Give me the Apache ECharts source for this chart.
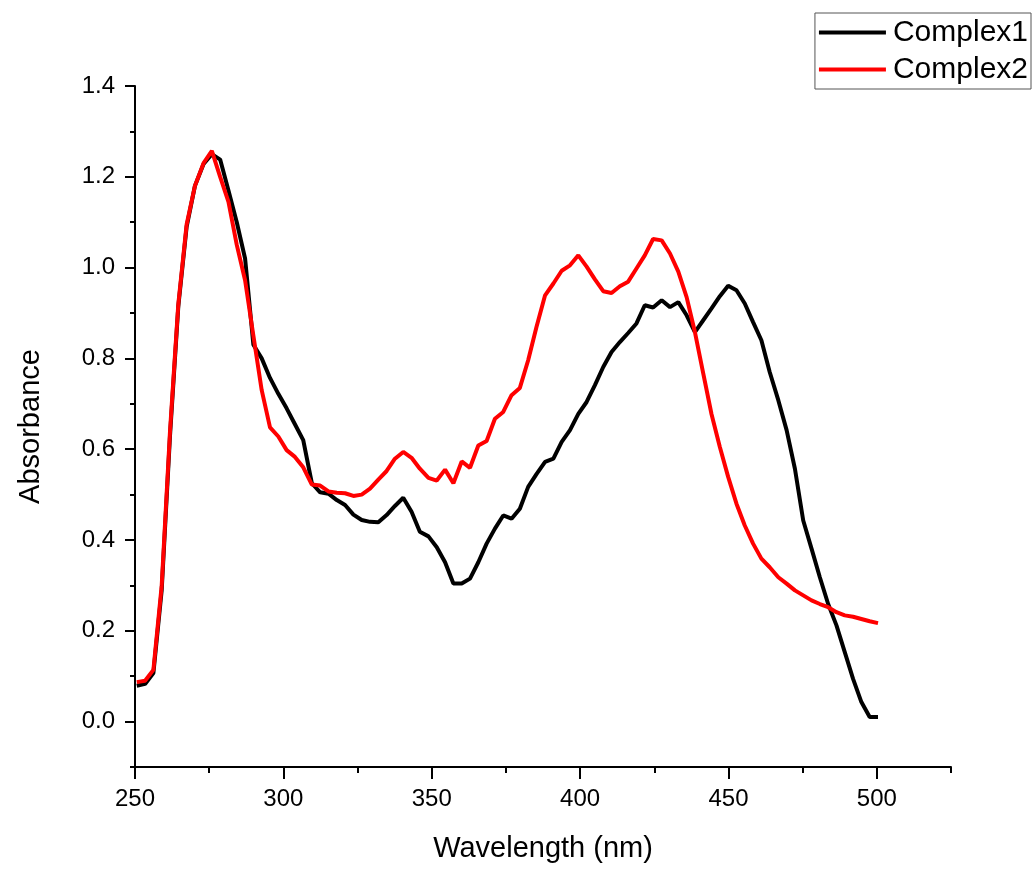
<!DOCTYPE html>
<html>
<head>
<meta charset="utf-8">
<title>UV-Vis absorbance</title>
<script src="https://cdn.jsdelivr.net/npm/echarts@6/dist/echarts.min.js"></script>
<style>
  html, body { margin: 0; padding: 0; background: #fff; }
  #chart { width: 1034px; height: 869px; }
</style>
</head>
<body>
<div id="chart"></div>
<script>
// Wavelength sampling points (nm), shared by both spectra
const wavelengths = [
  250.6, 253.4, 256.2, 259.0, 261.8, 264.6, 267.4, 270.2, 273.1, 275.9,
  278.7, 281.5, 284.3, 287.1, 289.9, 292.7, 295.5, 298.3, 301.1, 303.9,
  306.7, 309.6, 312.4, 315.2, 318.0, 320.8, 323.6, 326.4, 329.2, 332.0,
  334.8, 337.6, 340.4, 343.2, 346.0, 348.9, 351.7, 354.5, 357.3, 360.1,
  362.9, 365.7, 368.5, 371.3, 374.1, 376.9, 379.7, 382.5, 385.3, 388.2,
  391.0, 393.8, 396.6, 399.4, 402.2, 405.0, 407.8, 410.6, 413.4, 416.2,
  419.0, 421.8, 424.6, 427.5, 430.3, 433.1, 435.9, 438.7, 441.5, 444.3,
  447.1, 449.9, 452.7, 455.5, 458.3, 461.1, 463.9, 466.8, 469.6, 472.4,
  475.2, 478.0, 480.8, 483.6, 486.4, 489.2, 492.0, 494.8, 497.6, 500.4
];

// Absorbance of Complex1
const complex1 = [
  0.079, 0.083, 0.107, 0.290, 0.630, 0.915, 1.090, 1.180, 1.228, 1.250,
  1.238, 1.170, 1.100, 1.020, 0.830, 0.800, 0.757, 0.722, 0.690, 0.655,
  0.620, 0.525, 0.505, 0.502, 0.488, 0.477, 0.456, 0.444, 0.440, 0.439,
  0.455, 0.475, 0.493, 0.462, 0.418, 0.408, 0.384, 0.351, 0.304, 0.304,
  0.315, 0.351, 0.392, 0.425, 0.454, 0.447, 0.469, 0.517, 0.545, 0.572,
  0.579, 0.616, 0.642, 0.678, 0.704, 0.741, 0.781, 0.814, 0.836, 0.856,
  0.877, 0.917, 0.912, 0.928, 0.913, 0.924, 0.895, 0.858, 0.884, 0.910,
  0.937, 0.960, 0.950, 0.921, 0.880, 0.840, 0.770, 0.708, 0.642, 0.557,
  0.443, 0.381, 0.318, 0.259, 0.212, 0.153, 0.094, 0.043, 0.010, 0.010
];

// Absorbance of Complex2
const complex2 = [
  0.087, 0.090, 0.114, 0.300, 0.640, 0.920, 1.095, 1.180, 1.230, 1.257,
  1.200, 1.145, 1.050, 0.972, 0.850, 0.730, 0.648, 0.628, 0.598, 0.583,
  0.560, 0.522, 0.520, 0.507, 0.504, 0.503, 0.497, 0.500, 0.513, 0.533,
  0.552, 0.579, 0.594, 0.581, 0.557, 0.537, 0.531, 0.555, 0.525, 0.573,
  0.559, 0.608, 0.618, 0.667, 0.682, 0.719, 0.735, 0.796, 0.869, 0.939,
  0.965, 0.993, 1.005, 1.027, 1.002, 0.974, 0.948, 0.944, 0.959, 0.969,
  0.998, 1.027, 1.063, 1.060, 1.031, 0.991, 0.935, 0.858, 0.767, 0.677,
  0.605, 0.539, 0.480, 0.432, 0.392, 0.359, 0.340, 0.318, 0.304, 0.289,
  0.278, 0.267, 0.259, 0.252, 0.241, 0.234, 0.231, 0.226, 0.221, 0.217
];

// Axis tick positions
const xMajorTicks = [250, 300, 350, 400, 450, 500];
const xMinorTicks = [275, 325, 375, 425, 475, 525];
const yMajorTicks = [0.0, 0.2, 0.4, 0.6, 0.8, 1.0, 1.2, 1.4];
const yMinorTicks = [-0.1, 0.1, 0.3, 0.5, 0.7, 0.9, 1.1, 1.3];

const FONT = 'Liberation Sans, Arial, sans-serif';
const axisColor = '#000';

function pairs(xs, ys) {
  return xs.map((x, i) => [x, ys[i]]);
}

const chart = echarts.init(document.getElementById('chart'), null, { renderer: 'canvas' });

chart.setOption({
  animation: false,
  backgroundColor: '#fff',
  textStyle: { fontFamily: FONT, color: '#000' },
  grid: { left: 135, right: 83, top: 86, bottom: 102, containLabel: false },
  legend: {
    orient: 'vertical',
    right: 3,
    top: 13,
    padding: [2, 3, 2, 4],
    itemGap: 2,
    itemWidth: 67,
    itemHeight: 4,
    icon: 'rect',
    borderColor: '#555',
    borderWidth: 1,
    backgroundColor: '#fff',
    textStyle: { fontFamily: FONT, fontSize: 30, color: '#000', lineHeight: 35, padding: [0, 0, 0, 2] },
    data: ['Complex1', 'Complex2']
  },
  xAxis: [
    {
      type: 'value',
      min: 250,
      max: 525,
      position: 'bottom',
      name: 'Wavelength (nm)',
      nameLocation: 'middle',
      nameGap: 67,
      nameTextStyle: { fontFamily: FONT, fontSize: 29, color: '#000' },
      axisLine: { show: true, onZero: false, lineStyle: { color: axisColor, width: 2 } },
      axisTick: { show: true, inside: false, length: 12, lineStyle: { color: axisColor, width: 2 }, customValues: xMajorTicks },
      axisLabel: { fontFamily: FONT, fontSize: 24, color: '#000', margin: 20, customValues: xMajorTicks },
      splitLine: { show: false }
    },
    {
      type: 'value',
      min: 250,
      max: 525,
      position: 'bottom',
      axisLine: { show: false, onZero: false },
      axisTick: { show: true, inside: false, length: 6, lineStyle: { color: axisColor, width: 2 }, customValues: xMinorTicks },
      axisLabel: { show: false },
      splitLine: { show: false }
    }
  ],
  yAxis: [
    {
      type: 'value',
      min: -0.1,
      max: 1.4,
      position: 'left',
      name: 'Absorbance',
      nameLocation: 'middle',
      nameRotate: 90,
      nameGap: 90,
      nameTextStyle: { fontFamily: FONT, fontSize: 29, color: '#000' },
      axisLine: { show: true, onZero: false, lineStyle: { color: axisColor, width: 2 } },
      axisTick: { show: true, inside: false, length: 10, lineStyle: { color: axisColor, width: 2 }, customValues: yMajorTicks },
      axisLabel: {
        fontFamily: FONT, fontSize: 24, color: '#000', margin: 20,
        customValues: yMajorTicks,
        formatter: v => v.toFixed(1)
      },
      splitLine: { show: false }
    },
    {
      type: 'value',
      min: -0.1,
      max: 1.4,
      position: 'left',
      axisLine: { show: false, onZero: false },
      axisTick: { show: true, inside: false, length: 5, lineStyle: { color: axisColor, width: 2 }, customValues: yMinorTicks },
      axisLabel: { show: false },
      splitLine: { show: false }
    }
  ],
  series: [
    {
      name: 'Complex1',
      type: 'line',
      xAxisIndex: 0,
      yAxisIndex: 0,
      showSymbol: false,
      symbol: 'none',
      color: '#000000',
      lineStyle: { color: '#000000', width: 4 },
      data: pairs(wavelengths, complex1)
    },
    {
      name: 'Complex2',
      type: 'line',
      xAxisIndex: 0,
      yAxisIndex: 0,
      showSymbol: false,
      symbol: 'none',
      color: '#ff0000',
      lineStyle: { color: '#ff0000', width: 4 },
      data: pairs(wavelengths, complex2)
    }
  ]
});
</script>
</body>
</html>
